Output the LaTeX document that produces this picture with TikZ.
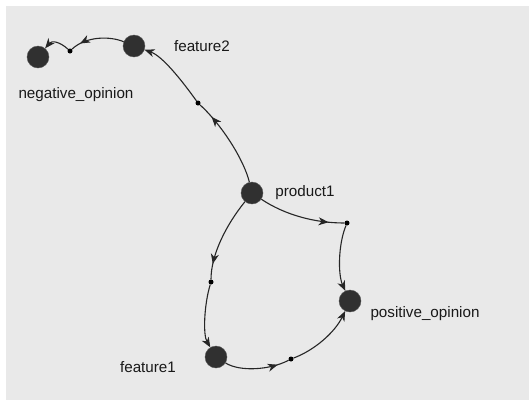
\documentclass[tikz,border=0pt]{standalone}
\usepackage{fontspec}
\setmainfont{Liberation Sans}
\usetikzlibrary{arrows.meta,decorations.markings}
\definecolor{bgc}{HTML}{E9E9E9}
\definecolor{nodec}{HTML}{303030}
\tikzset{
  vert/.style={circle,fill=nodec,draw=nodec!80,minimum size=22pt,inner sep=0pt},
  bendpt/.style={circle,fill=black,minimum size=5pt,inner sep=0pt},
  lbl/.style={font=\fontsize{15.2}{17}\selectfont,text=black!90,inner sep=0pt},
  conn/.style={line width=1.1pt,draw=black!85},
  midarr/.style={conn,postaction={decorate},decoration={markings,mark=at position 0.82 with {\arrow{Stealth[length=10pt,width=8pt,inset=3pt]}}}},
  endarr/.style={conn,-{Stealth[length=10pt,width=8pt,inset=3pt]}}
}
\begin{document}
\begin{tikzpicture}[x=1pt,y=-1pt]
\useasboundingbox (0,0) rectangle (529,400);
\fill[bgc] (6,6) rectangle (529,400);
% nodes
\node[vert] (neg) at (38,57) {};
\node[vert] (f2) at (134,46) {};
\node[vert] (p1) at (252,193) {};
\node[vert] (pos) at (350,301) {};
\node[vert] (f1) at (216,357) {};
% bend points
\node[bendpt] (dB) at (70,51) {};
\node[bendpt] (dA) at (198,103) {};
\node[bendpt] (dC) at (347,223) {};
\node[bendpt] (dD) at (211,282) {};
\node[bendpt] (dE) at (291,359) {};
% labels
\node[lbl] (lneg) at (76,95) {negative\_opinion};
\node[lbl] (lf2) at (202,46) {feature2};
\node[lbl] (lp1) at (305,193) {product1};
\node[lbl] (lpos) at (425,314) {positive\_opinion};
\node[lbl] (lf1) at (148,367) {feature1};
% edges
\draw[midarr] (p1) .. controls (244,160) and (222,125) .. (dA);
\draw[endarr] (dA) .. controls (180,78) and (162,56) .. (f2);
\draw[midarr] (f2) .. controls (110,36) and (86,36) .. (dB);
\draw[endarr] (dB) .. controls (60,42) and (52,40) .. (neg);
\draw[midarr] (p1) .. controls (285,215) and (315,223) .. (dC);
\draw[endarr] (dC) .. controls (338,245) and (338,275) .. (pos);
\draw[midarr] (p1) .. controls (226,225) and (211,255) .. (dD);
\draw[endarr] (dD) .. controls (204,305) and (203,335) .. (f1);
\draw[midarr] (f1) .. controls (240,372) and (270,370) .. (dE);
\draw[endarr] (dE) .. controls (315,350) and (335,332) .. (pos);
\end{tikzpicture}
\end{document}
